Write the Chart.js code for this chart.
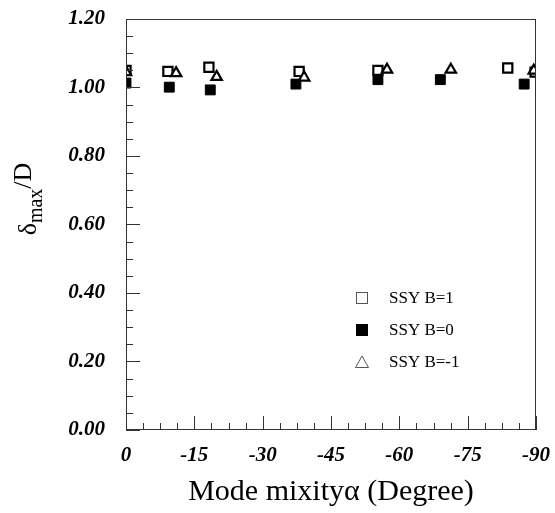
<!DOCTYPE html>
<html>
<head>
<meta charset="utf-8">
<script src="https://cdn.jsdelivr.net/npm/chart.js@4/dist/chart.umd.min.js"></script>
<style>
  html, body { margin: 0; padding: 0; background: #fff; }
  #wrap { width: 555px; height: 513px; }
</style>
</head>
<body>
<div id="wrap"><canvas id="chart1"></canvas></div>
<script>
// Datos
const etiquetasSerie = ["SSY B=1", "SSY B=0", "SSY B=-1"];

const alfaB1 = [0, -9.2, -18.2, -38.0, -55.3, -83.8, -89.8];
const deltaB1 = [1.05, 1.047, 1.059, 1.047, 1.05, 1.057, 1.045];

const alfaB0 = [0, -9.5, -18.5, -37.3, -55.3, -69.0, -87.4];
const deltaB0 = [1.013, 1.001, 0.993, 1.01, 1.023, 1.023, 1.01];

const alfaBm1 = [0, -11.0, -19.9, -39.1, -57.3, -71.3, -89.5];
const deltaBm1 = [1.045, 1.042, 1.031, 1.029, 1.052, 1.052, 1.049];

const ticksX = [0, -15, -30, -45, -60, -75, -90];
const ticksY = [0, 0.2, 0.4, 0.6, 0.8, 1.0, 1.2];

const tituloX = "Mode mixityα (Degree)";

const serif = "'Liberation Serif', 'DejaVu Serif', serif";
const fuenteTicks = { family: serif, size: 21, style: "italic", weight: "bold" };

function aPuntos(xs, ys) {
  return xs.map((x, i) => ({ x: x, y: ys[i] }));
}

// Ticks menores hacia adentro, caja, títulos y leyenda interior
const pluginEjes = {
  id: "ejes",
  afterDraw(chart) {
    const ctx = chart.ctx;
    const a = chart.chartArea;
    const sx = chart.scales.x;
    const sy = chart.scales.y;
    ctx.save();
    ctx.strokeStyle = "#333";
    ctx.lineWidth = 1;
    ctx.strokeRect(a.left + 0.5, a.top + 0.5, a.right - a.left - 1, a.bottom - a.top - 1);

    ctx.beginPath();
    for (let i = 0; i <= 24; i++) {
      const v = -i * 3.75;
      const px = Math.round(sx.getPixelForValue(v)) + 0.5;
      const largo = i % 4 === 0 ? 14 : 7;
      ctx.moveTo(px, a.bottom);
      ctx.lineTo(px, a.bottom - largo);
    }
    for (let i = 0; i <= 24; i++) {
      const v = i * 0.05;
      const py = Math.round(sy.getPixelForValue(v)) + 0.5;
      const largo = i % 4 === 0 ? 14 : 7;
      ctx.moveTo(a.left, py);
      ctx.lineTo(a.left + largo, py);
    }
    ctx.stroke();

    // Título eje X
    ctx.fillStyle = "#000";
    ctx.font = "30px " + serif;
    ctx.textAlign = "center";
    ctx.textBaseline = "alphabetic";
    ctx.fillText(tituloX, 331, 500);

    // Título eje Y con subíndice
    ctx.translate(27, 199);
    ctx.rotate(-Math.PI / 2);
    ctx.textAlign = "left";
    ctx.font = "26px " + serif;
    const w1 = ctx.measureText("δ").width;
    ctx.font = "20px " + serif;
    const w2 = ctx.measureText("max").width;
    ctx.font = "26px " + serif;
    const w3 = ctx.measureText("/D").width;
    let x0 = -(w1 + w2 + w3) / 2;
    ctx.fillText("δ", x0, 9);
    ctx.font = "20px " + serif;
    ctx.fillText("max", x0 + w1, 15);
    ctx.font = "26px " + serif;
    ctx.fillText("/D", x0 + w1 + w2, 4);
    ctx.restore();

    // Leyenda
    ctx.save();
    ctx.font = "17px " + serif;
    ctx.textBaseline = "middle";
    ctx.fillStyle = "#000";
    const lx = 362;
    const ly = [298, 330, 362];
    ctx.strokeStyle = "#555";
    ctx.lineWidth = 1;
    ctx.strokeRect(lx - 5.5, ly[0] - 5.5, 11, 11);
    ctx.fillRect(lx - 6, ly[1] - 6, 12, 12);
    ctx.beginPath();
    ctx.moveTo(lx, ly[2] - 6);
    ctx.lineTo(lx + 6.5, ly[2] + 5.5);
    ctx.lineTo(lx - 6.5, ly[2] + 5.5);
    ctx.closePath();
    ctx.stroke();
    etiquetasSerie.forEach((t, i) => ctx.fillText(t, 389, ly[i] + 1));
    ctx.restore();
  }
};

new Chart(document.getElementById("chart1").getContext("2d"), {
  type: "scatter",
  data: {
    datasets: [
      {
        label: etiquetasSerie[0],
        data: aPuntos(alfaB1, deltaB1),
        pointStyle: "rect",
        pointRadius: 6.5,
        backgroundColor: "#fff",
        borderColor: "#000",
        borderWidth: 2.2,
        order: 3,
      },
      {
        label: etiquetasSerie[1],
        data: aPuntos(alfaB0, deltaB0),
        pointStyle: "rect",
        pointRadius: 7,
        backgroundColor: "#000",
        borderColor: "#000",
        borderWidth: 1,
        order: 2,
      },
      {
        label: etiquetasSerie[2],
        data: aPuntos(alfaBm1, deltaBm1),
        pointStyle: "triangle",
        pointRadius: 6,
        backgroundColor: "#fff",
        borderColor: "#000",
        borderWidth: 2.2,
        order: 1,
      },
    ],
  },
  options: {
    responsive: true,
    maintainAspectRatio: false,
    animation: false,
    layout: { padding: { top: 19, right: 10, left: 0, bottom: 0 } },
    plugins: { legend: { display: false }, tooltip: { enabled: false } },
    scales: {
      x: {
        type: "linear",
        min: -90,
        max: 0,
        reverse: true,
        afterFit: (s) => { s.height = 83; },
        afterBuildTicks: (s) => { s.ticks = ticksX.map((v) => ({ value: v })); },
        grid: { display: false },
        border: { display: false },
        ticks: {
          color: "#000",
          font: fuenteTicks,
          padding: 5,
          maxRotation: 0,
          callback: (v) => String(v),
        },
      },
      y: {
        min: 0,
        max: 1.2,
        afterFit: (s) => { s.width = 126; s.paddingTop = 0; s.paddingBottom = 0; },
        afterBuildTicks: (s) => { s.ticks = ticksY.map((v) => ({ value: v })); },
        grid: { display: false },
        border: { display: false },
        ticks: {
          color: "#000",
          font: fuenteTicks,
          padding: 13,
          callback: (v) => v.toFixed(2),
        },
      },
    },
  },
  plugins: [pluginEjes],
});
</script>
</body>
</html>
